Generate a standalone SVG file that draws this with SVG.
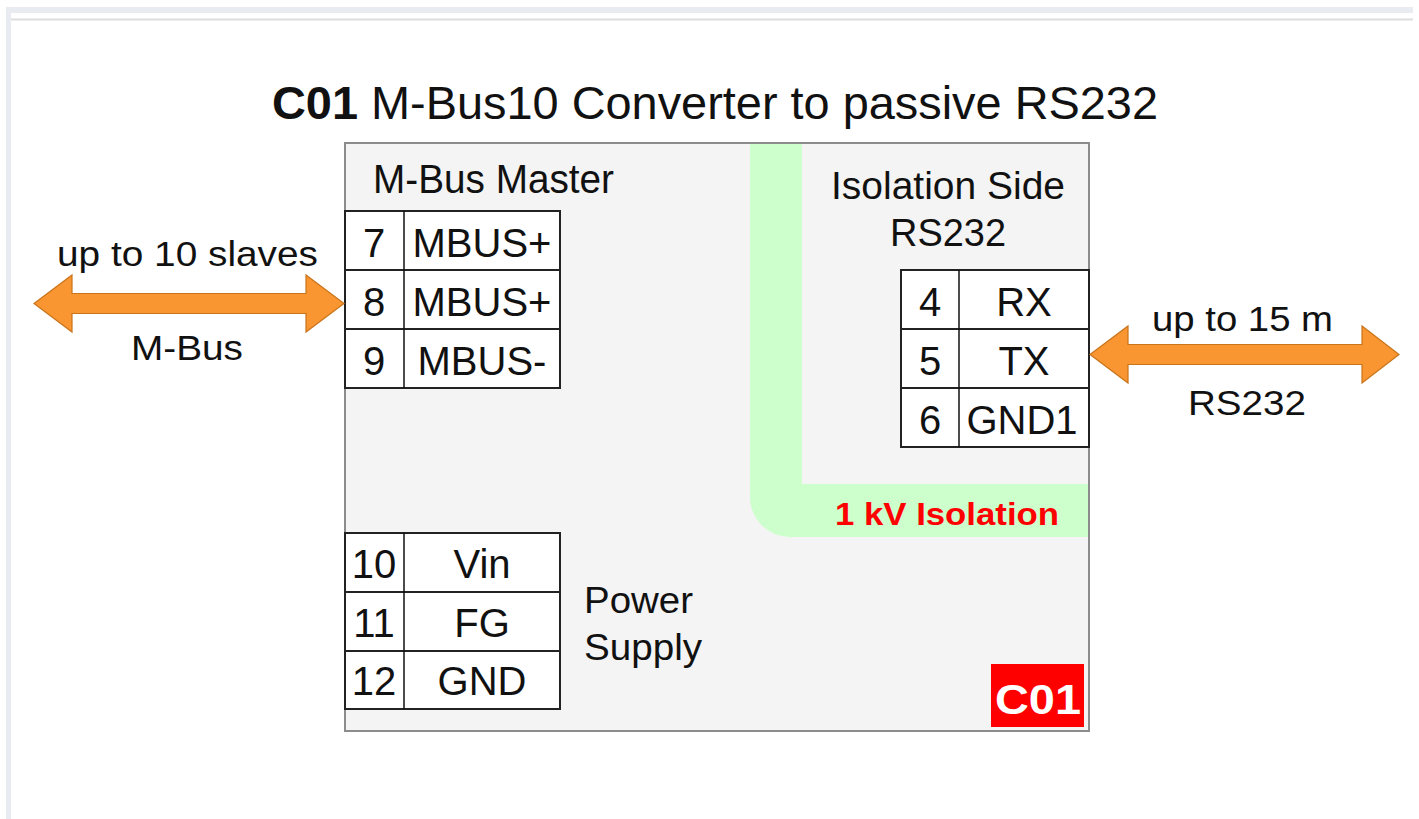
<svg xmlns="http://www.w3.org/2000/svg" width="1419" height="819" viewBox="0 0 1419 819">
<style>
text{font-family:"Liberation Sans",Arial,sans-serif;fill:#111}
.tb{font-size:40px;text-anchor:middle}
.lbl{font-size:35px}
.cell{fill:#fff;stroke:#222;stroke-width:2}
.div{stroke:#111;stroke-width:1.5}
.arrow{fill:#fa9632;stroke:#c8741a;stroke-width:1.2;stroke-linejoin:miter}
</style>
<rect x="0" y="0" width="1419" height="819" fill="#fff"/>
<g id="frame">
<rect x="6" y="7" width="1407" height="6" fill="#e8ecf0"/>
<rect x="6" y="7" width="5" height="812" fill="#e8ecf0"/>
<line x1="11" y1="19.5" x2="1413" y2="19.5" stroke="#dedede" stroke-width="2"/>
</g>
<g id="title">
<text x="272" y="119" font-size="46" textLength="886" lengthAdjust="spacingAndGlyphs"><tspan font-weight="bold">C01</tspan> M-Bus10 Converter to passive RS232</text>
</g>
<g id="converter">
<rect x="345" y="143" width="744" height="588" fill="#f4f4f4" stroke="#8c8c8c" stroke-width="2"/>
<path d="M750,144 H802 V484 H1088 V537 H790 A40,40 0 0 1 750,497 Z" fill="#ccffcc"/>
<text x="373" y="193" font-size="41" textLength="241" lengthAdjust="spacingAndGlyphs">M-Bus Master</text>
<text x="831" y="199" font-size="38" textLength="234" lengthAdjust="spacingAndGlyphs">Isolation Side</text>
<text x="890" y="246" font-size="38" textLength="116" lengthAdjust="spacingAndGlyphs">RS232</text>
<text x="835" y="525" font-size="31" font-weight="bold" style="fill:#ff0000" textLength="224" lengthAdjust="spacingAndGlyphs">1 kV Isolation</text>
<text x="584" y="613" font-size="36" textLength="109" lengthAdjust="spacingAndGlyphs">Power</text>
<text x="584" y="660" font-size="36" textLength="118" lengthAdjust="spacingAndGlyphs">Supply</text>
<g id="badge">
<rect x="991" y="664" width="93" height="63" fill="#ff0000"/>
<text x="995" y="714" font-size="42" font-weight="bold" style="fill:#fff" textLength="86" lengthAdjust="spacingAndGlyphs">C01</text>
</g>
</g>
<g id="mbus-terminals">
<rect class="cell" x="345" y="211" width="215" height="59"/>
<rect class="cell" x="345" y="270" width="215" height="59"/>
<rect class="cell" x="345" y="329" width="215" height="59"/>
<line class="div" x1="404" y1="211" x2="404" y2="388"/>
<text class="tb" x="374" y="257">7</text><text class="tb" x="482" y="257">MBUS+</text>
<text class="tb" x="374" y="316">8</text><text class="tb" x="482" y="316">MBUS+</text>
<text class="tb" x="374" y="375">9</text><text class="tb" x="482" y="375">MBUS-</text>
</g>
<g id="rs232-terminals">
<rect class="cell" x="901" y="270" width="188" height="59"/>
<rect class="cell" x="901" y="329" width="188" height="59"/>
<rect class="cell" x="901" y="388" width="188" height="59"/>
<line class="div" x1="959" y1="270" x2="959" y2="447"/>
<text class="tb" x="930" y="316">4</text><text class="tb" x="1024" y="316">RX</text>
<text class="tb" x="930" y="375">5</text><text class="tb" x="1024" y="375">TX</text>
<text class="tb" x="930" y="434">6</text><text class="tb" x="1022" y="434">GND1</text>
</g>
<g id="power-terminals">
<rect class="cell" x="345" y="533" width="215" height="59"/>
<rect class="cell" x="345" y="592" width="215" height="59"/>
<rect class="cell" x="345" y="651" width="215" height="58"/>
<line class="div" x1="404" y1="533" x2="404" y2="709"/>
<text class="tb" x="374" y="578">10</text><text class="tb" x="482" y="578">Vin</text>
<text class="tb" x="374" y="637">11</text><text class="tb" x="482" y="637">FG</text>
<text class="tb" x="374" y="695">12</text><text class="tb" x="482" y="695">GND</text>
</g>
<g id="connectors">
<polygon class="arrow" points="34,303.5 72,275 72,293.5 306,293.5 306,275 344,303.5 306,332 306,313.5 72,313.5 72,332"/>
<polygon class="arrow" points="1090,354.5 1128,326 1128,344.5 1362,344.5 1362,326 1399,354.5 1362,383 1362,364.5 1128,364.5 1128,383"/>
<text class="lbl" x="57" y="266" textLength="261" lengthAdjust="spacingAndGlyphs">up to 10 slaves</text>
<text class="lbl" x="131" y="360" textLength="112" lengthAdjust="spacingAndGlyphs">M-Bus</text>
<text class="lbl" x="1152" y="331" textLength="181" lengthAdjust="spacingAndGlyphs">up to 15 m</text>
<text class="lbl" x="1188" y="415" textLength="118" lengthAdjust="spacingAndGlyphs">RS232</text>
</g>
</svg>
